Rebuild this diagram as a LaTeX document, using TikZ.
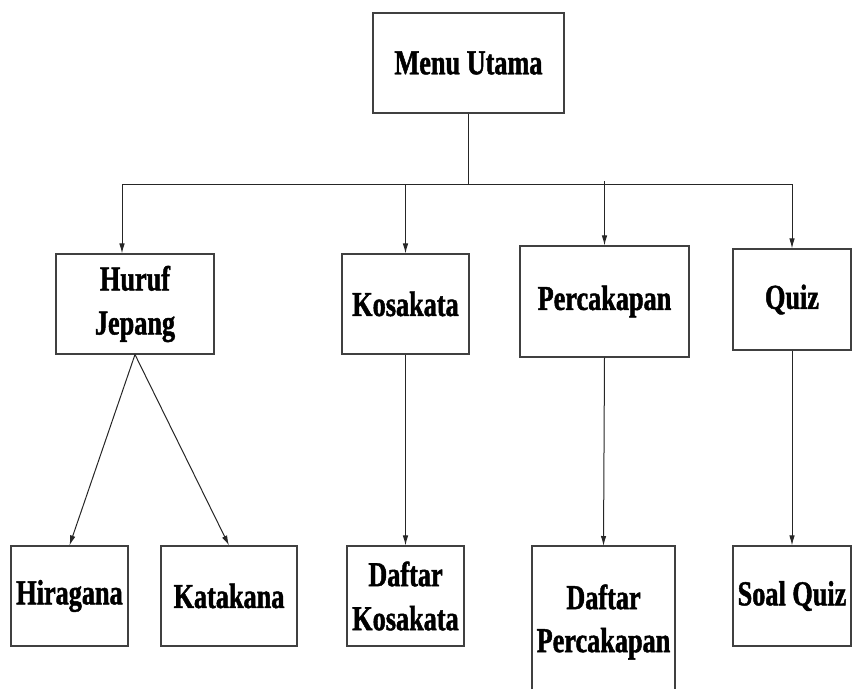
\documentclass[tikz,border=0pt]{standalone}
\usepackage{fontspec}
\setmainfont{Liberation Serif}[FakeStretch=0.75,FakeBold=1.3]
\usetikzlibrary{arrows.meta}

\tikzset{
  menubox/.style={draw=black!75, line width=1.1pt, fill=white, inner sep=0pt,
    align=center, font=\fontsize{35}{44}\selectfont\bfseries},
  menutext/.style={inner sep=0pt, align=center,
    font=\fontsize{35}{43}\selectfont\bfseries},
  link/.style={draw=black!85, line width=1pt},
  arrowlink/.style={link, -{Latex[length=10pt,width=5.5pt]}}
}

\begin{document}
\begin{tikzpicture}[x=1pt,y=-1pt]
  \useasboundingbox (0,0) rectangle (852,689);

  % top level
  \node[menubox, minimum width=191pt, minimum height=100pt] (menu) at (468.5,63) {Menu Utama};

  % second level
  \node[menubox, minimum width=158pt, minimum height=100pt] (huruf) at (135,304) {Huruf\\Jepang};
  \node[menubox, minimum width=127pt, minimum height=100pt] (kosa) at (405.5,304) {Kosakata};
  \node[menubox, minimum width=169pt, minimum height=111pt] (perca) at (604.5,301.5) {Percakapan};
  \node[menubox, minimum width=118pt, minimum height=101pt] (quiz) at (792,299.5) {Quiz};

  % third level
  \node[menubox, minimum width=117pt, minimum height=100pt] (hira) at (69.5,596) {Hiragana};
  \node[menubox, minimum width=136pt, minimum height=100pt] (kata) at (229,596) {Katakana};
  \node[menubox, minimum width=117pt, minimum height=100pt] (dkosa) at (405.5,596) {Daftar\\Kosakata};
  \node[menubox, minimum width=118pt, minimum height=100pt] (squiz) at (792,596) {Soal Quiz};

  % open-bottom frame for Daftar Percakapan
  \coordinate (dpTop) at (603.5,546);
  \draw[draw=black!75, line width=1.1pt] (532,689) -- (532,546) -- (675,546) -- (675,689);
  \node[menutext] (dperca) at (603.5,622) {Daftar\\Percakapan};

  % bus from the main menu
  \coordinate (hj) at (122,184);
  \draw[link] (menu.south) -- (menu.south |- hj);
  \draw[arrowlink] (hj) -- (quiz.north |- hj) -- (quiz.north);
  \draw[arrowlink] (hj) -- (hj |- huruf.north);
  \draw[arrowlink] (kosa.north |- hj) -- (kosa.north);
  \draw[arrowlink] ([yshift=3pt]perca.north |- hj) -- (perca.north);

  % lower connectors
  \draw[arrowlink] (huruf.south) -- (hira.north);
  \draw[arrowlink] (huruf.south) -- (kata.north);
  \draw[arrowlink] (kosa.south) -- (dkosa.north);
  \draw[arrowlink] (perca.south) -- (dpTop);
  \draw[arrowlink] (quiz.south) -- (squiz.north);
\end{tikzpicture}
\end{document}
